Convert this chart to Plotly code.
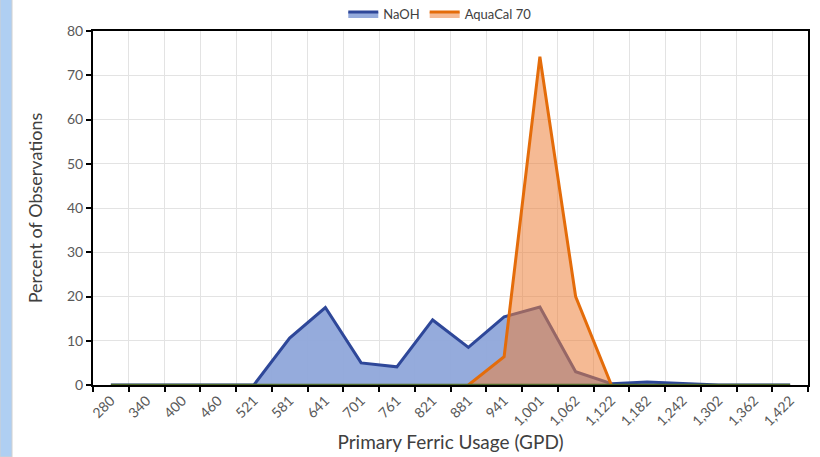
import plotly.graph_objects as go

categories = ["280", "340", "400", "460", "521", "581", "641", "701", "761", "821",
              "881", "941", "1,001", "1,062", "1,122", "1,182", "1,242", "1,302", "1,362", "1,422"]
naoh = [0, 0, 0, 0, 0, 10.6, 17.5, 5.0, 4.1, 14.7,
        8.5, 15.4, 17.6, 3.0, 0.3, 0.7, 0.3, 0, 0, 0]
aquacal = [None, None, None, None, None, None, None, None, None, None,
           0, 6.4, 74.2, 20.0, 0, None, None, None, None, None]
other = [0] * len(categories)
y_ticks = [0, 10, 20, 30, 40, 50, 60, 70, 80]

FONT = "Lato"
TXT = "#404040"

fig = go.Figure()
fig.add_trace(go.Scatter(
    x=categories, y=naoh, name="NaOH", mode="lines", fill="tozeroy",
    line=dict(color="#2E4799", width=3), fillcolor="rgba(143,167,218,0.95)"))
fig.add_trace(go.Scatter(
    x=categories, y=aquacal, name="AquaCal 70", mode="lines", fill="tozeroy",
    line=dict(color="#E46C0A", width=3), fillcolor="rgba(236,130,60,0.55)"))
fig.add_trace(go.Scatter(
    x=categories, y=other, name="", mode="lines", showlegend=False,
    line=dict(color="#4F6B2A", width=2.5)))

fig.update_layout(
    width=820, height=457,
    margin=dict(l=93, r=12, t=31, b=72, autoexpand=False),
    paper_bgcolor="white", plot_bgcolor="white",
    font=dict(family=FONT, color=TXT),
    showlegend=True,
    legend=dict(orientation="h", x=0.485, xanchor="center", y=1.048, yanchor="middle",
                font=dict(size=13, color=TXT), bgcolor="rgba(0,0,0,0)",
                itemwidth=30, tracegroupgap=0),
    xaxis=dict(type="category", tickson="boundaries", ticks="outside", ticklen=5,
               tickcolor="black", tickwidth=2, tickangle=-45,
               tickfont=dict(size=14, color="#595959", family=FONT),
               showline=True, linecolor="black", linewidth=2, mirror=True,
               showgrid=True, gridcolor="#E3E3E3", gridwidth=1,
               range=[-0.5, 19.5],
               title=dict(text="Primary Ferric Usage (GPD)", font=dict(size=19, color=TXT), standoff=8)),
    yaxis=dict(range=[0, 80], tickvals=y_ticks, ticks="outside", ticklen=5,
               tickcolor="black", tickwidth=2,
               tickfont=dict(size=14, color="#595959", family=FONT),
               showline=True, linecolor="black", linewidth=2, mirror=True,
               showgrid=True, gridcolor="#E3E3E3", gridwidth=1, zeroline=False,
               title=dict(text="Percent of Observations", font=dict(size=18, color=TXT), standoff=20)),
    xaxis2=dict(overlaying="x", anchor="y", range=[-0.5, 19.5],
                tickvals=[i - 0.5 for i in range(len(categories) + 1)],
                ticks="inside", ticklen=5, tickcolor="black", tickwidth=2,
                showticklabels=False, showgrid=False, showline=False, zeroline=False),
    yaxis2=dict(overlaying="y", anchor="x", side="left", range=[0, 80], tickvals=y_ticks,
                ticks="inside", ticklen=5, tickcolor="black", tickwidth=2,
                showticklabels=False, showgrid=False, showline=False, zeroline=False),
)

# slide background strip on the left edge
fig.add_shape(type="rect", xref="paper", yref="paper",
              x0=-93 / 715, x1=(12 - 93) / 715, y0=-72 / 354, y1=(385 + 31) / 354 + 0.01,
              fillcolor="#AFCFF2", line=dict(color="#D0D0D0", width=1), layer="below")

fig.write_html("out.html")
